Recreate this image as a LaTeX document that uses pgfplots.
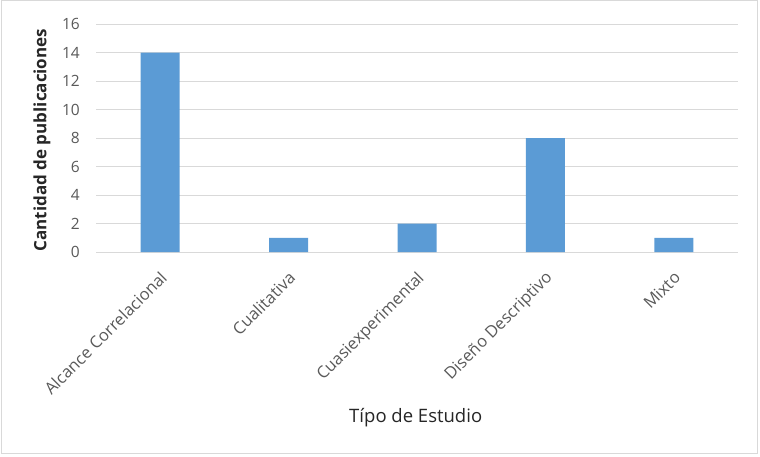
\documentclass[border=0pt]{standalone}
\usepackage{pgfplots}
\pgfplotsset{compat=1.18}
\usepackage{fontspec}
\setmainfont{Open Sans}
\definecolor{barblue}{HTML}{5B9BD5}
\definecolor{gridgray}{HTML}{D9D9D9}
\definecolor{ticktext}{HTML}{595959}
\definecolor{titletext}{HTML}{262626}
\begin{document}
\begin{tikzpicture}[x=1pt,y=1pt]
\useasboundingbox (0,0) rectangle (760,456);
\draw[gridgray, line width=1pt] (1.5,2.5) rectangle (757.5,455);
\begin{axis}[
  at={(96pt,204pt)}, anchor=south west,
  scale only axis, width=642pt, height=228pt,
  ymin=0, ymax=16, ytick={0,2,...,16},
  xmin=-0.5, xmax=4.5,
  xtick=data,
  xticklabels={Alcance Correlacional,Cualitativa,Cuasiexperimental,Diseño Descriptivo,Mixto},
  axis x line*=bottom,
  axis y line*=left,
  x axis line style={draw=gridgray, line width=1pt, -},
  y axis line style={draw=none},
  ymajorgrids, grid style={gridgray, line width=1pt},
  major tick length=0pt,
  /pgf/number format/assume math mode=true,
  ticklabel style={font=\fontsize{15.5}{17}\selectfont, text=ticktext},
  yticklabel style={anchor=east, inner sep=0pt, xshift=-16pt},
  xticklabel style={xshift=-1pt, yshift=-18pt, rotate=45, anchor=north east, inner sep=0pt, font=\fontsize{16.5}{18}\selectfont},
  xlabel={Típo de Estudio},
  ylabel={\bfseries Cantidad de publicaciones},
  label style={font=\fontsize{18.5}{20}\selectfont, text=titletext},
  xlabel style={at={(axis description cs:0.498,-0.728)}, anchor=center},
  ylabel style={at={(axis description cs:-0.084,0.491)}, anchor=center, rotate=0, font=\fontsize{17}{19}\selectfont},
  clip=false,
]
\addplot[ybar, bar width=39pt, fill=barblue, draw=none] coordinates {(0,14) (1,1) (2,2) (3,8) (4,1)};
\end{axis}
\end{tikzpicture}
\end{document}
